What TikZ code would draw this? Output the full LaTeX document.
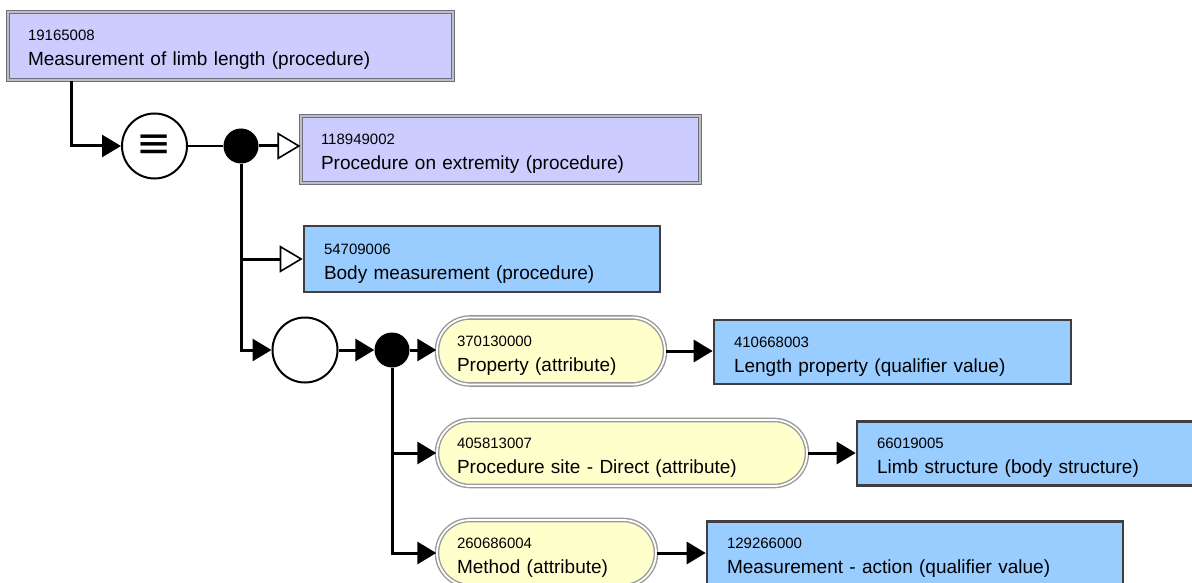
\documentclass[tikz,border=0pt]{standalone}
\usepackage{fontspec}
\setmainfont{Liberation Sans}
\newfontfamily\symfnt{DejaVu Sans}
\usetikzlibrary{arrows.meta,positioning}
\definecolor{defined}{HTML}{CCCCFF}
\definecolor{primitive}{HTML}{99CCFF}
\definecolor{attrfill}{HTML}{FFFFCC}
\definecolor{edge}{HTML}{3F3F3F}
\definecolor{dblgray}{HTML}{6E6E7E}
\newcommand{\Lbl}{\fontsize{19}{25}\selectfont}
\newcommand{\Sct}[2]{{\fontsize{15}{25}\selectfont\rule{0pt}{27pt}#1}\\#2\rule[-12pt]{0pt}{12pt}}

\tikzset{
  concept/.style={rectangle, align=left, inner xsep=20pt, inner ysep=0pt, font=\Lbl, text=black},
  defconc/.style={concept, fill=defined, draw=dblgray, line width=1.1pt, double=gray!50, double distance=1.6pt},
  primconc/.style={concept, fill=primitive, draw=edge, line width=2.6pt},
  attrconc/.style={concept, fill=attrfill, draw=gray!80, line width=1.4pt, double=white, double distance=1.8pt, rounded corners=33pt},
  csize/.style 2 args={text width=#1pt, minimum height=#2pt},
  junc/.style={circle, fill=black, minimum size=35pt, inner sep=0pt},
  grpring/.style={circle, draw=black, fill=white, line width=2pt, minimum size=65pt, inner sep=0pt},
  link/.style={line width=3pt, -{Triangle[length=19pt,width=22pt]}},
  isa/.style={line width=3pt, -{Triangle[open,length=23pt,width=27pt,line width=1.6pt,fill=white]}},
}

\begin{document}
\begin{tikzpicture}[x=1pt,y=-1pt]
  \useasboundingbox (0,0) rectangle (1192,583);
  % concepts
  \node[defconc, csize={405}{68}] (limb) at (230.5,46) {\Sct{19165008}{Measurement of limb length (procedure)}};
  \node[defconc, csize={359}{67}] (extrem) at (500.5,149.5) {\Sct{118949002}{Procedure on extremity (procedure)}};
  \node[primconc, csize={316}{66}] (bodymeas) at (482,259) {\Sct{54709006}{Body measurement (procedure)}};
  \node[grpring] (eqv) at (154.5,146) {\symfnt\fontsize{42}{42}\selectfont ≡};
  \node[junc] (grp) at (241,146) {};
  \node[grpring] (rolegrp) at (305,350) {};
  \node[junc] (attrs) at (392,350) {};
  % attribute / value rows
  \node[attrconc, csize={188}{67}] (prop) at (551,351) {\Sct{370130000}{Property (attribute)}};
  \node[primconc, csize={317}{64}] (lenprop) at (892.5,352) {\Sct{410668003}{Length property (qualifier value)}};
  \node[attrconc, csize={330}{66}] (site) at (622,453) {\Sct{405813007}{Procedure site - Direct (attribute)}};
  \node[primconc, csize={313}{64}] (limbstr) at (1033.5,453.5) {\Sct{66019005}{Limb structure (body structure)}};
  \node[attrconc, csize={179}{66}] (method) at (546.5,553) {\Sct{260686004}{Method (attribute)}};
  \node[primconc, csize={376}{64}] (measact) at (915,553.5) {\Sct{129266000}{Measurement - action (qualifier value)}};
  % connectors
  \draw[link] ([xshift=64.5pt]limb.south west) |- (eqv);
  \draw[line width=1.6pt] (eqv) -- (grp);
  \draw[isa] (grp) -- (grp -| extrem.west);
  \draw[isa] (grp |- bodymeas) -- (bodymeas);
  \draw[link] (grp) |- (rolegrp);
  \draw[link] (rolegrp) -- (attrs);
  \draw[link] (attrs) -- (attrs -| prop.west);
  \draw[link] (attrs) |- (method);
  \draw[link] (attrs |- site) -- (site);
  \foreach \a/\v in {prop/lenprop, site/limbstr, method/measact}
    \draw[link] (\a) -- (\a -| \v.west);
\end{tikzpicture}
\end{document}
